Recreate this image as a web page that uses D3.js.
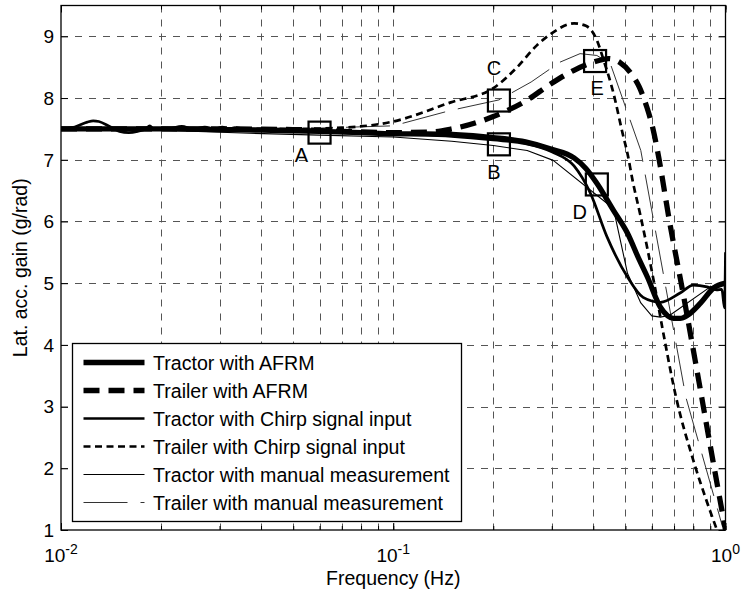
<!DOCTYPE html>
<html>
<head>
<meta charset="utf-8">
<script src="https://cdn.jsdelivr.net/npm/d3@7"></script>
<style>
  html, body { margin: 0; padding: 0; background: #fff; }
  svg { display: block; font-family: "Liberation Sans", Arial, Helvetica, sans-serif; }
</style>
</head>
<body>
<svg id="chart" width="742" height="595"></svg>
<script>
// Lateral acceleration gain versus frequency: tractor and trailer responses
// identified with AFRM, chirp steering input and manual measurement.

const yTickValues = [1, 2, 3, 4, 5, 6, 7, 8, 9];
const xDecades = [0.01, 0.1, 1];
const xDecadeExponents = ["-2", "-1", "0"];

const legendLabels = [
  "Tractor with AFRM",
  "Trailer with AFRM",
  "Tractor with Chirp signal input",
  "Trailer with Chirp signal input",
  "Tractor with manual measurement",
  "Trailer with manual measurement"
];

// Tractor, AFRM
const tractorAfrmFreq = [0.01, 0.02, 0.03, 0.04, 0.05, 0.06, 0.08, 0.1, 0.125, 0.15, 0.2, 0.25, 0.3, 0.35, 0.38, 0.41, 0.46, 0.507, 0.55, 0.582, 0.637, 0.67, 0.697, 0.73, 0.769, 0.842, 0.92, 1.0];
const tractorAfrmGain = [7.5, 7.5, 7.49, 7.48, 7.47, 7.46, 7.44, 7.42, 7.42, 7.41, 7.36, 7.29, 7.17, 7.03, 6.86, 6.62, 6.18, 5.81, 5.38, 5.10, 4.61, 4.47, 4.43, 4.43, 4.48, 4.68, 4.92, 5.0];

// Trailer, AFRM
const trailerAfrmFreq = [0.01, 0.03, 0.05, 0.07, 0.1, 0.13, 0.15, 0.2, 0.25, 0.3, 0.35, 0.4, 0.444, 0.48, 0.516, 0.55, 0.58, 0.605, 0.624, 0.68, 0.748, 0.824, 0.907, 1.0];
const trailerAfrmGain = [7.5, 7.5, 7.49, 7.46, 7.44, 7.45, 7.5, 7.7, 7.95, 8.24, 8.45, 8.58, 8.64, 8.58, 8.42, 8.18, 7.85, 7.5, 7.15, 5.97, 4.79, 3.53, 2.26, 1.0];

// Tractor, chirp signal input
const tractorChirpFreq = [0.01, 0.011, 0.012, 0.0125, 0.013, 0.014, 0.015, 0.016, 0.017, 0.018, 0.0185, 0.019, 0.021, 0.0231, 0.025, 0.0271, 0.029, 0.0306, 0.032, 0.0334, 0.036, 0.04, 0.05, 0.06, 0.08, 0.1, 0.15, 0.2, 0.25, 0.3, 0.35, 0.392, 0.44, 0.507, 0.565, 0.637, 0.73, 0.8, 0.88, 0.94, 0.975, 0.993, 1.0];
const tractorChirpGain = [7.5, 7.53, 7.61, 7.63, 7.62, 7.54, 7.46, 7.44, 7.46, 7.5, 7.55, 7.5, 7.5, 7.54, 7.5, 7.53, 7.5, 7.53, 7.5, 7.52, 7.5, 7.5, 7.49, 7.47, 7.45, 7.42, 7.38, 7.32, 7.26, 7.13, 6.9, 6.46, 5.75, 5.1, 4.77, 4.69, 4.84, 4.97, 4.94, 4.89, 4.9, 4.6, 5.5];

// Trailer, chirp signal input
const trailerChirpFreq = [0.01, 0.03, 0.05, 0.07, 0.1, 0.149, 0.2, 0.236, 0.27, 0.3, 0.35, 0.38, 0.41, 0.43, 0.46, 0.49, 0.507, 0.525, 0.556, 0.61, 0.65, 0.71, 0.8, 0.88, 0.95];
const trailerChirpGain = [7.5, 7.5, 7.5, 7.52, 7.62, 7.93, 8.16, 8.5, 8.85, 9.05, 9.21, 9.17, 8.94, 8.61, 8.08, 7.43, 7.1, 6.67, 6.07, 5.0, 4.19, 3.15, 2.13, 1.45, 0.95];

// Tractor, manual measurement
const tractorManualFreq = [0.01, 0.02, 0.037, 0.06, 0.1, 0.15, 0.2, 0.253, 0.303, 0.46, 0.507, 0.556, 0.6, 0.637, 0.68, 0.9, 1.0];
const tractorManualGain = [7.5, 7.48, 7.43, 7.4, 7.37, 7.3, 7.23, 7.15, 6.99, 6.21, 5.16, 4.68, 4.47, 4.45, 4.48, 4.94, 5.0];

// Trailer, manual measurement
const trailerManualFreq = [0.01, 0.05, 0.1, 0.149, 0.208, 0.26, 0.317, 0.365, 0.41, 0.45, 0.48, 0.556, 0.76, 0.98];
const trailerManualGain = [7.5, 7.5, 7.55, 7.8, 7.97, 8.26, 8.58, 8.72, 8.69, 8.56, 8.13, 7.15, 3.15, 1.05];

// Marked operating points
const markerNames = ["A", "B", "C", "D", "E"];
const markerFreq = [0.06, 0.208, 0.208, 0.41, 0.405];
const markerGain = [7.44, 7.25, 7.96, 6.6, 8.6];

// ---------------------------------------------------------------------------
const W = 742, H = 595;
const margin = { left: 61, right: 16.5, top: 5.5, bottom: 65 };
const x0 = margin.left, x1 = W - margin.right;
const y0 = margin.top, y1 = H - margin.bottom;

const x = d3.scaleLog().domain([0.01, 1]).range([x0, x1]);
const y = d3.scaleLinear().domain([1, 9.5]).range([y1, y0]);

const svg = d3.select("#chart");

const zip = (fs, gs) => fs.map((f, i) => ({ f, g: gs[i] }));

const series = [
  { data: zip(trailerManualFreq, trailerManualGain), width: 1, dash: "44,13", color: "#333", smooth: false },
  { data: zip(tractorManualFreq, tractorManualGain), width: 1.1, dash: null, color: "#000", smooth: false },
  { data: zip(trailerChirpFreq, trailerChirpGain), width: 2.7, dash: "7,4.5", color: "#000", smooth: true },
  { data: zip(tractorChirpFreq, tractorChirpGain), width: 2.7, dash: null, color: "#000", smooth: true },
  { data: zip(trailerAfrmFreq, trailerAfrmGain), width: 5.3, dash: "16,9", color: "#000", smooth: true },
  { data: zip(tractorAfrmFreq, tractorAfrmGain), width: 5.3, dash: null, color: "#000", smooth: true }
];

// Legend entries in display order, reusing the line styles above
const legendStyles = [series[5], series[4], series[3], series[2], series[1], series[0]];

// Grid
const grid = svg.append("g").attr("class", "grid")
  .attr("stroke", "#555").attr("stroke-width", 1).attr("stroke-dasharray", "7,7");
grid.selectAll("line.v")
  .data(x.ticks().filter(t => t > 0.0100001 && t < 0.99999))
  .join("line").attr("class", "v")
  .attr("x1", d => Math.round(x(d)) + 0.5).attr("x2", d => Math.round(x(d)) + 0.5)
  .attr("y1", y0).attr("y2", y1);
grid.selectAll("line.h")
  .data(yTickValues.filter(t => t > 1))
  .join("line").attr("class", "h")
  .attr("y1", d => Math.round(y(d)) + 0.5).attr("y2", d => Math.round(y(d)) + 0.5)
  .attr("x1", x0).attr("x2", x1);

// Curves
svg.append("defs").append("clipPath").attr("id", "plotClip")
  .append("rect").attr("x", x0).attr("y", y0).attr("width", x1 - x0).attr("height", y1 - y0);

const curves = svg.append("g").attr("clip-path", "url(#plotClip)");
series.forEach(s => {
  const line = d3.line()
    .x(d => x(d.f)).y(d => y(d.g))
    .curve(s.smooth ? d3.curveMonotoneX : d3.curveLinear);
  curves.append("path")
    .datum(s.data)
    .attr("d", line)
    .attr("fill", "none")
    .attr("stroke", s.color)
    .attr("stroke-width", s.width)
    .attr("stroke-dasharray", s.dash)
    .attr("stroke-linejoin", "round");
});

// Markers and their letters
const markers = markerNames.map((n, i) => ({ n, f: markerFreq[i], g: markerGain[i] }));
const letterOffset = { A: [-18, 22], B: [-5, 27], C: [-5, -33], D: [-17, 27], E: [2, 27] };
const mk = svg.append("g");
mk.selectAll("rect").data(markers).join("rect")
  .attr("x", d => x(d.f) - 11).attr("y", d => y(d.g) - 11)
  .attr("width", 22).attr("height", 22)
  .attr("fill", "none").attr("stroke", "#000").attr("stroke-width", 2.2);
mk.selectAll("text").data(markers).join("text")
  .attr("x", d => x(d.f) + letterOffset[d.n][0])
  .attr("y", d => y(d.g) + letterOffset[d.n][1])
  .attr("dy", "0.36em")
  .attr("text-anchor", "middle")
  .attr("font-size", 20)
  .text(d => d.n);

// Axes: ticks pointing inward on all four sides
function styleAxis(g) {
  g.select(".domain").remove();
  g.selectAll(".tick line").attr("stroke", "#000");
}
const minorX = x.ticks();
svg.append("g").attr("transform", `translate(0,${y1})`)
  .call(d3.axisBottom(x).tickValues(minorX).tickSize(-4).tickFormat(""))
  .call(styleAxis);
svg.append("g").attr("transform", `translate(0,${y1})`)
  .call(d3.axisBottom(x).tickValues(xDecades).tickSize(-7).tickFormat(""))
  .call(styleAxis);
svg.append("g").attr("transform", `translate(0,${y0})`)
  .call(d3.axisTop(x).tickValues(minorX).tickSize(-4).tickFormat(""))
  .call(styleAxis);
svg.append("g").attr("transform", `translate(0,${y0})`)
  .call(d3.axisTop(x).tickValues(xDecades).tickSize(-7).tickFormat(""))
  .call(styleAxis);
svg.append("g").attr("transform", `translate(${x0},0)`)
  .call(d3.axisLeft(y).tickValues(yTickValues).tickSize(-7).tickFormat(""))
  .call(styleAxis);
svg.append("g").attr("transform", `translate(${x1},0)`)
  .call(d3.axisRight(y).tickValues(yTickValues).tickSize(-7).tickFormat(""))
  .call(styleAxis);

// Plot frame
svg.append("rect")
  .attr("x", x0).attr("y", y0).attr("width", x1 - x0).attr("height", y1 - y0)
  .attr("fill", "none").attr("stroke", "#000").attr("stroke-width", 1.3);

// Tick labels
svg.append("g").selectAll("text").data(yTickValues).join("text")
  .attr("x", x0 - 7).attr("y", d => y(d)).attr("dy", "0.36em")
  .attr("text-anchor", "end").attr("font-size", 19)
  .text(d => d);

const xl = svg.append("g").selectAll("text").data(xDecades).join("text")
  .attr("x", d => x(d)).attr("y", y1 + 32)
  .attr("text-anchor", "middle").attr("font-size", 19);
xl.append("tspan").text("10");
xl.append("tspan").attr("dy", -8).attr("font-size", 14).text((d, i) => xDecadeExponents[i]);

// Axis titles
svg.append("text")
  .attr("x", (x0 + x1) / 2).attr("y", y1 + 55)
  .attr("text-anchor", "middle").attr("font-size", 19.5)
  .text("Frequency (Hz)");
svg.append("text")
  .attr("transform", `translate(27,${(y0 + y1) / 2}) rotate(-90)`)
  .attr("text-anchor", "middle").attr("font-size", 19.5)
  .text("Lat. acc. gain (g/rad)");

// Legend
const lg = svg.append("g").attr("transform", "translate(72.5,343.5)");
lg.append("rect").attr("width", 389).attr("height", 178)
  .attr("fill", "#fff").attr("stroke", "#000").attr("stroke-width", 1.3);
const rows = lg.selectAll("g.row").data(legendLabels).join("g").attr("class", "row")
  .attr("transform", (d, i) => `translate(0,${19 + i * 28})`);
rows.append("line")
  .attr("x1", 11).attr("x2", 72).attr("y1", 0).attr("y2", 0)
  .attr("stroke", (d, i) => legendStyles[i].color)
  .attr("stroke-width", (d, i) => legendStyles[i].width)
  .attr("stroke-dasharray", (d, i) => legendStyles[i].dash);
rows.append("text")
  .attr("x", 80.5).attr("y", 0).attr("dy", "0.36em")
  .attr("font-size", 19.6)
  .text(d => d);
</script>
</body>
</html>
